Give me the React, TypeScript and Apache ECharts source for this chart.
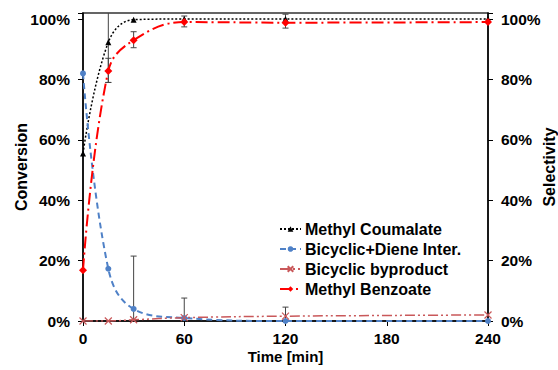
import React, { useEffect, useRef } from "react";
import * as echarts from "echarts";

const times = [0, 15, 30, 60, 120, 240];
const methylCoumalate = [55.5, 92.3, 99.8, 100, 100, 100];
const bicyclicDiene = [82, 17.3, 4, 1, 0, 0];
const bicyclicByproduct = [0, 0, 0.4, 1.1, 1.6, 2];
const methylBenzoate = [16.8, 82.8, 93, 99, 98.8, 99];
const xTicks = [0, 60, 120, 180, 240];
// error bars: [time, low, high]
const errorBars = [
  [15, 79, 108],
  [15, 79, 87],
  [30, 90.5, 95.8],
  [60, 97.4, 101],
  [120, 97, 101.6],
  [30, -15, 21.5],
  [60, -6, 7.6],
  [120, -1.5, 4.6],
];

const FONT = "Arial, 'Liberation Sans', sans-serif";

export default function App() {
  const ref = useRef<HTMLDivElement>(null);
  useEffect(() => {
    if (!ref.current) return;
    const chart = echarts.init(ref.current, null, { renderer: "svg" });
    const pct = (v: number) => (v % 20 === 0 ? v + "%" : "");
    const yCommon = (pos: "left" | "right", name: string, gap: number) => ({
      type: "value",
      position: pos,
      min: 0,
      max: 102,
      interval: 20,
      name,
      nameLocation: "middle",
      nameGap: gap,
      nameMoveOverlap: false,
      nameTextStyle: { fontFamily: FONT, fontWeight: "bold", fontSize: 16, color: "#000" },
      axisLine: { show: true, lineStyle: { color: "#000", width: 1.5 } },
      axisTick: { show: true, length: 5, lineStyle: { color: "#000" } },
      axisLabel: {
        formatter: pct,
        margin: 13,
        fontFamily: FONT,
        fontWeight: "bold",
        fontSize: 15.5,
        color: "#000",
      },
      splitLine: { show: false },
    });
    const mk = (v: number[]) => times.map((t, i) => [t, v[i]]);
    chart.setOption({
      animation: false,
      grid: {
        left: 83,
        right: 70,
        top: 13,
        bottom: 49,
        show: true,
        borderColor: "#333",
        borderWidth: 1.5,
        containLabel: false,
        outerBoundsMode: "none",
      },
      legend: {
        orient: "vertical",
        left: 274,
        top: 216,
        itemWidth: 21,
        itemHeight: 7,
        itemGap: 4,
        textStyle: { fontFamily: FONT, fontWeight: "bold", fontSize: 16, color: "#000", padding: [0, 0, 0, -1] },
        data: ["Methyl Coumalate", "Bicyclic+Diene Inter.", "Bicyclic byproduct", "Methyl Benzoate"],
      },
      xAxis: {
        type: "value",
        min: 0,
        max: 240,
        interval: 60,
        name: "Time [min]",
        nameLocation: "middle",
        nameGap: 28,
        nameMoveOverlap: false,
        nameTextStyle: { fontFamily: FONT, fontWeight: "bold", fontSize: 15, color: "#000" },
        axisLine: { show: true, onZero: false, lineStyle: { color: "#000", width: 1.5 } },
        axisTick: { show: true, length: 5, lineStyle: { color: "#000" } },
        axisLabel: {
          margin: 9,
          fontFamily: FONT,
          fontWeight: "bold",
          fontSize: 15.5,
          color: "#000",
          formatter: (v: number) => (xTicks.includes(v) ? String(v) : ""),
        },
        splitLine: { show: false },
      },
      yAxis: [yCommon("left", "Conversion", 53.5), yCommon("right", "Selectivity", 53.5)],
      series: [
        {
          type: "custom",
          name: "err",
          xAxisIndex: 0,
          yAxisIndex: 0,
          clip: true,
          z: 1,
          data: errorBars,
          renderItem: (params: any, api: any) => {
            const x = api.value(0);
            const p1 = api.coord([x, api.value(1)]);
            const p2 = api.coord([x, api.value(2)]);
            const w = 3;
            const st = { stroke: "#444", lineWidth: 1 };
            return {
              type: "group",
              children: [
                { type: "line", shape: { x1: p1[0], y1: p1[1], x2: p2[0], y2: p2[1] }, style: st },
                { type: "line", shape: { x1: p1[0] - w, y1: p1[1], x2: p1[0] + w, y2: p1[1] }, style: st },
                { type: "line", shape: { x1: p2[0] - w, y1: p2[1], x2: p2[0] + w, y2: p2[1] }, style: st },
              ],
            };
          },
        },
        {
          type: "line",
          name: "Methyl Coumalate",
          yAxisIndex: 0,
          smooth: 0.4,
          data: mk(methylCoumalate),
          symbol: "triangle",
          symbolSize: 6,
          itemStyle: { color: "#000" },
          lineStyle: { color: "#000", width: 1.5, type: [2, 2] },
          z: 3,
        },
        {
          type: "line",
          name: "Bicyclic+Diene Inter.",
          yAxisIndex: 1,
          smooth: 0.4,
          data: mk(bicyclicDiene),
          symbol: "circle",
          symbolSize: 6,
          itemStyle: { color: "#4f81c7" },
          lineStyle: { color: "#4f81c7", width: 2, type: [6, 4] },
          z: 3,
        },
        {
          type: "line",
          name: "Bicyclic byproduct",
          yAxisIndex: 1,
          smooth: 0.4,
          data: mk(bicyclicByproduct),
          symbol: "path://M0,0L10,10M10,0L0,10",
          symbolSize: 7,
          itemStyle: { color: "none", borderColor: "#c9585a", borderWidth: 1.2 },
          lineStyle: { color: "#c9585a", width: 1.5, type: [10, 3, 2, 3, 2, 3] },
          z: 3,
        },
        {
          type: "line",
          name: "Methyl Benzoate",
          yAxisIndex: 1,
          smooth: 0.4,
          data: mk(methylBenzoate),
          symbol: "diamond",
          symbolSize: 8,
          itemStyle: { color: "#ff0000" },
          lineStyle: { color: "#ff0000", width: 2, type: [12, 4, 2, 4] },
          z: 4,
        },
      ],
    });
    return () => chart.dispose();
  }, []);
  return <div ref={ref} style={{ width: 558, height: 370, position: "absolute", left: 0, top: 0 }} />;
}
